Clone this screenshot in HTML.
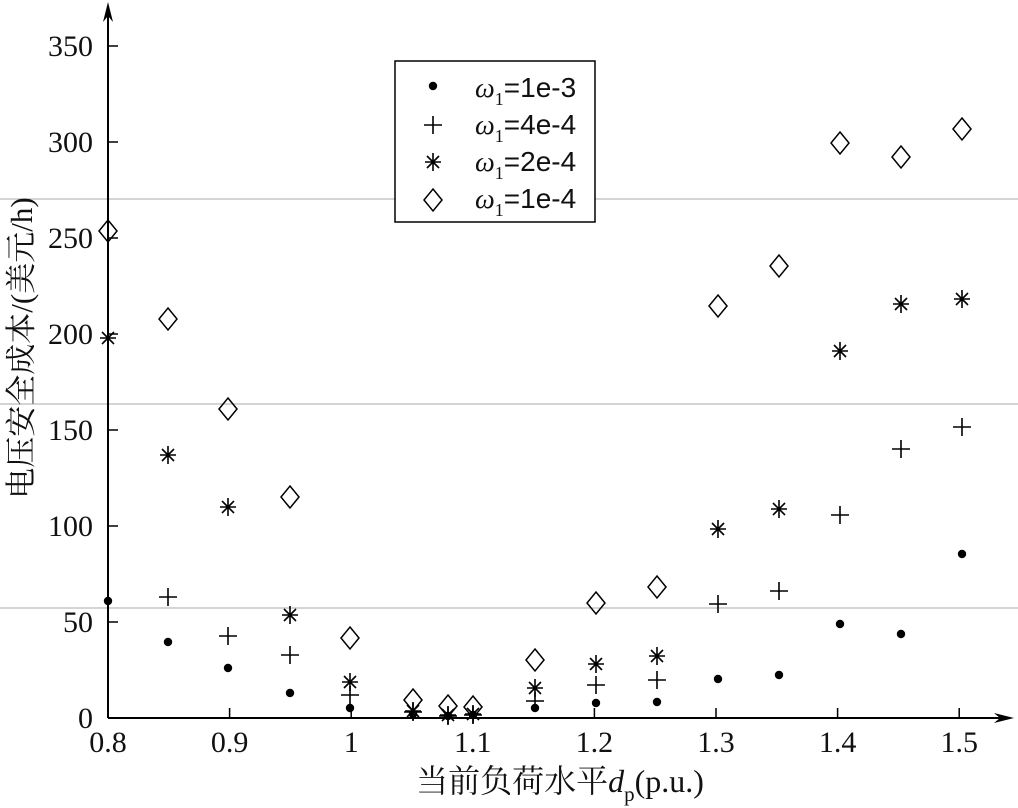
<!DOCTYPE html>
<html><head><meta charset="utf-8"><style>
body{margin:0;background:#fff;}
svg{display:block;}
text{font-family:"Liberation Serif","Noto Serif CJK SC",serif;fill:#111;}
</style></head><body>
<svg id="s" width="1018" height="808" viewBox="0 0 1018 808" xmlns="http://www.w3.org/2000/svg">
<line x1="0" y1="199" x2="1018" y2="199" stroke="#aaa" stroke-width="1"/>
<line x1="0" y1="404" x2="1018" y2="404" stroke="#aaa" stroke-width="1"/>
<line x1="0" y1="608" x2="1018" y2="608" stroke="#aaa" stroke-width="1"/>
<g stroke="#000" stroke-width="2" fill="none">
<line x1="108" y1="718" x2="108" y2="10"/>
<line x1="108" y1="718" x2="1005" y2="718"/>
</g>
<polygon points="108,2 103,22 108,16 113,22" fill="#000"/>
<polygon points="1014,718 994,713 1000,718 994,723" fill="#000"/>
<g id="ticks" stroke="#000" stroke-width="1.5"></g>
<g font-size="30" text-anchor="end" id="yl"></g>
<g font-size="30" text-anchor="middle" id="xl"></g>
<text transform="translate(32,348) rotate(-90)" font-size="31" text-anchor="middle">电压安全成本/(美元/h)</text>
<text x="560" y="792" font-size="32" text-anchor="middle">当前负荷水平<tspan font-style="italic">d</tspan><tspan font-size="21" dy="9">p</tspan><tspan dy="-9">(p.u.)</tspan></text>
<rect x="395" y="61" width="200" height="161" fill="#fff" stroke="#000" stroke-width="1.5"/>
<g id="pts"></g>
<g font-size="28">
<text x="475" y="97"><tspan font-style="italic">ω</tspan><tspan font-size="18" dy="8">1</tspan><tspan dy="-8" font-family="Liberation Sans">=1e-3</tspan></text>
<text x="475" y="134"><tspan font-style="italic">ω</tspan><tspan font-size="18" dy="8">1</tspan><tspan dy="-8" font-family="Liberation Sans">=4e-4</tspan></text>
<text x="475" y="171"><tspan font-style="italic">ω</tspan><tspan font-size="18" dy="8">1</tspan><tspan dy="-8" font-family="Liberation Sans">=2e-4</tspan></text>
<text x="475" y="208"><tspan font-style="italic">ω</tspan><tspan font-size="18" dy="8">1</tspan><tspan dy="-8" font-family="Liberation Sans">=1e-4</tspan></text>
</g>
</svg>
<script>
var NS="http://www.w3.org/2000/svg";
function el(p,t,a){var e=document.createElementNS(NS,t);for(var k in a)e.setAttribute(k,a[k]);document.getElementById(p).appendChild(e);return e;}
var yv=[0,50,100,150,200,250,300,350];
yv.forEach(function(v,i){var y=718-v*1.92;el("ticks","line",{x1:108,y1:y,x2:118,y2:y});var t=el("yl","text",{x:93,y:y+10});t.textContent=v;});
var xv=["0.8","0.9","1","1.1","1.2","1.3","1.4","1.5"];
xv.forEach(function(v,i){var x=108+i*121.6;el("ticks","line",{x1:x,y1:718,x2:x,y2:708});var t=el("xl","text",{x:x,y:752});t.textContent=v;});
var X=[108,168,228,290,350,413,448,473,535,596,657,718,779,840,901,962];
var dot=[601,642,668,693,708,714,716,715,708,703,702,679,675,624,634,554];
var plus=[null,597,636,655,695,712,716,715,701,685,680,604,591,515,449,427];
var star=[338,455,507,615,682,711,715,714,688,664,656,529,509,351,304,299];
var dia=[231,319,409,497,638,700,706,707,660,603,587,306,266,143,157,129];
function D(x,y){el("pts","circle",{cx:x,cy:y,r:4.2,fill:"#000"});}
function P(x,y){el("pts","path",{d:"M"+(x-9)+" "+y+"h18M"+x+" "+(y-9)+"v18",stroke:"#000","stroke-width":1.6,fill:"none"});}
function S(x,y){el("pts","path",{d:"M"+(x-8)+" "+y+"h16M"+x+" "+(y-9)+"v18M"+(x-6)+" "+(y-6)+"l12 12M"+(x+6)+" "+(y-6)+"l-12 12",stroke:"#000","stroke-width":1.6,fill:"none"});}
function Q(x,y){el("pts","path",{d:"M"+x+" "+(y-11)+"L"+(x+9)+" "+y+"L"+x+" "+(y+11)+"L"+(x-9)+" "+y+"Z",stroke:"#000","stroke-width":1.5,fill:"none"});}
X.forEach(function(x,i){Q(x,dia[i]);S(x,star[i]);if(plus[i])P(x,plus[i]);D(x,dot[i]);});
D(433,86);P(433,125);S(433,162);Q(433,200);
</script>
</body></html>
